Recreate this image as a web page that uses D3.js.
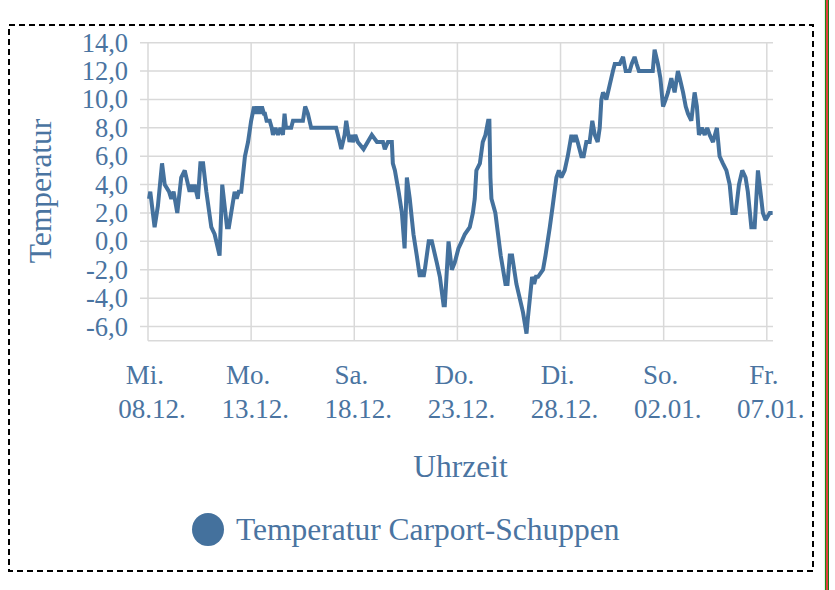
<!DOCTYPE html>
<html><head><meta charset="utf-8">
<script src="https://cdn.jsdelivr.net/npm/d3@7"></script>
<style>html,body{margin:0;padding:0;background:#fff;}svg{display:block;}</style>
</head><body>
<svg id="chart" width="835" height="590"></svg>
<script>
// ---- data ----
const startDate = new Date(2021, 11, 8, 0, 0);
const endDayOffset = 30.3;
const dayOffsets = [
  0.05,0.11,0.32,0.48,0.68,0.81,1.02,1.13,1.24,1.42,1.61,1.78,1.94,2.02,2.10,2.18,2.26,2.34,2.42,2.54,2.67,2.83,3.07,3.23,3.47,3.60,3.83,3.92,4.20,4.30,4.40,4.52,
  4.70,4.85,5.00,5.14,5.24,5.33,5.43,5.52,5.62,5.67,5.75,5.90,6.00,6.06,6.18,6.30,6.42,6.54,6.62,6.69,6.94,7.03,7.51,7.62,7.75,7.91,9.12,9.21,9.37,9.53,9.61,9.77,9.85,9.93,10.05,10.17,
  10.45,10.85,11.10,11.39,11.48,11.63,11.82,11.87,11.97,12.15,12.31,12.44,12.55,12.69,12.87,13.03,13.18,13.27,13.36,13.42,13.61,13.76,14.00,14.15,14.33,14.39,14.57,14.73,14.87,15.05,15.21,
  15.36,15.60,15.75,15.84,15.92,16.09,16.23,16.36,16.49,16.55,16.60,16.65,16.84,17.10,17.33,17.43,17.54,17.65,17.86,18.18,18.35,18.41,18.62,18.72,18.81,18.91,19.15,19.27,19.48,19.62,19.80,19.92,20.04,20.20,
  20.35,20.53,20.63,20.73,20.83,21.01,21.12,21.25,21.41,21.54,21.66,21.80,21.90,21.98,22.06,22.22,22.38,22.54,22.63,22.87,23.03,23.16,23.35,23.45,23.59,23.69,23.80,24.47,24.56,24.72,24.84,24.97,
  25.10,25.21,25.37,25.53,25.69,25.78,25.94,26.07,26.18,26.34,26.50,26.61,26.71,26.85,26.99,27.11,27.23,27.39,27.58,27.71,27.87,28.04,28.20,28.33,28.49,28.65,28.81,28.97,29.08,29.25,29.41,29.57,29.73,29.81,29.94,30.14,30.28
];
const temps = [
  3.0,3.5,1.0,2.5,5.5,4.0,3.5,3.0,3.5,2.0,4.5,5.0,4.0,3.5,4.0,3.5,4.0,3.5,3.0,5.5,5.5,3.5,1.0,0.5,-1.0,4.0,1.0,1.0,3.5,3.0,3.5,3.5,
  6.0,7.0,8.5,9.5,9.0,9.5,9.0,9.5,9.0,9.0,8.5,8.5,8.0,7.5,8.0,7.5,8.0,7.5,9.0,8.0,8.0,8.5,8.5,9.5,9.0,8.0,8.0,7.5,6.5,7.5,8.5,7.0,7.5,7.0,7.5,7.0,
  6.5,7.5,7.0,7.0,6.5,7.0,7.0,5.5,5.0,3.5,2.0,-0.5,4.5,3.0,0.5,-1.0,-2.5,-2.0,-2.5,-2.0,0.0,0.0,-1.5,-2.5,-4.5,-4.5,0.0,-2.0,-1.5,-0.5,0.0,
  0.5,1.0,2.0,3.0,5.0,5.5,7.0,7.5,8.5,8.5,4.5,3.0,2.0,-1.0,-3.0,-3.0,-1.0,-1.0,-3.0,-5.0,-6.5,-5.5,-2.5,-3.0,-2.5,-2.5,-2.0,-1.0,1.0,2.5,4.5,5.0,4.5,5.0,
  6.0,7.5,7.0,7.5,7.0,6.0,6.0,7.0,7.0,8.5,7.5,7.0,8.0,10.0,10.5,10.0,11.0,12.0,12.5,12.5,13.0,12.0,12.0,12.5,13.0,12.5,12.0,12.0,13.5,12.5,11.5,9.5,
  10.0,10.5,11.5,10.5,12.0,11.5,10.5,9.5,9.0,8.5,10.5,9.5,7.5,8.0,7.5,8.0,7.5,7.0,8.0,6.0,5.5,5.0,4.0,2.0,2.0,4.0,5.0,4.5,3.5,1.0,1.0,5.0,3.0,2.0,1.5,2.0,2.0
];
const tickDayOffsets = [0, 5, 10, 15, 20, 25, 30];
const tickWeekdays = ["Mi.", "Mo.", "Sa.", "Do.", "Di.", "So.", "Fr."];
const tickDates = ["08.12.", "13.12.", "18.12.", "23.12.", "28.12.", "02.01.", "07.01."];
const yTicks = [-6, -4, -2, 0, 2, 4, 6, 8, 10, 12, 14];
const yDomain = [-7, 14];
const seriesName = "Temperatur Carport-Schuppen";
const yTitle = "Temperatur";
const xTitle = "Uhrzeit";

// ---- drawing ----
const DAY = 86400000;
const toDate = d => new Date(startDate.getTime() + d * DAY);
const data = dayOffsets.map((d, i) => ({ t: toDate(d), v: temps[i] }));

const svg = d3.select("#chart");
const L = 148, R = 773, T = 42.7, B = 340.7;
const lineColor = "#44719d";
const textColor = "#4a74a1";
const gridColor = "#d9d9d9";
const font = "'Liberation Serif', 'Times New Roman', serif";

const x = d3.scaleTime().domain([startDate, toDate(endDayOffset)]).range([L, R]);
const y = d3.scaleLinear().domain(yDomain).range([B, T]);

// frame (dashed)
svg.append("rect").attr("x", 9).attr("y", 25).attr("width", 804).attr("height", 546)
  .attr("fill", "none").attr("stroke", "#000").attr("stroke-width", 2).attr("stroke-dasharray", "6,4");

// right edge colored lines
svg.append("line").attr("x1", 825.5).attr("x2", 825.5).attr("y1", 0).attr("y2", 590).attr("stroke", "#1a8a1a").attr("stroke-width", 1.2);
svg.append("line").attr("x1", 827).attr("x2", 827).attr("y1", 0).attr("y2", 590).attr("stroke", "#e01010").attr("stroke-width", 1.6);
svg.append("line").attr("x1", 828.5).attr("x2", 828.5).attr("y1", 0).attr("y2", 590).attr("stroke", "#1a7a1a").attr("stroke-width", 1);

// horizontal gridlines with left tick extension
svg.append("g").selectAll("line").data(yTicks).join("line")
  .attr("x1", L - 8).attr("x2", R)
  .attr("y1", d => y(d)).attr("y2", d => y(d))
  .attr("stroke", gridColor).attr("stroke-width", 1.5);
// bottom axis line
svg.append("line").attr("x1", L).attr("x2", R).attr("y1", B).attr("y2", B)
  .attr("stroke", gridColor).attr("stroke-width", 1.5);

// vertical gridlines
const tickDatesObj = tickDayOffsets.map(toDate);
svg.append("g").selectAll("line").data(tickDatesObj).join("line")
  .attr("x1", d => x(d)).attr("x2", d => x(d)).attr("y1", T).attr("y2", B)
  .attr("stroke", gridColor).attr("stroke-width", 1.5);

// y tick labels
svg.append("g").selectAll("text").data(yTicks).join("text")
  .attr("x", 128).attr("y", d => y(d) + 9)
  .attr("text-anchor", "end")
  .attr("font-family", font).attr("font-size", 26.5).attr("fill", textColor)
  .text(d => d3.format(".1f")(d).replace(".", ",").replace("−", "-"));

// x tick labels (two lines)
const xl = svg.append("g").selectAll("text").data(tickDatesObj).join("text")
  .attr("text-anchor", "middle")
  .attr("font-family", font).attr("font-size", 27).attr("fill", textColor);
xl.append("tspan").attr("x", d => x(d) - 3).attr("y", 384).text((d, i) => tickWeekdays[i]);
xl.append("tspan").attr("x", d => x(d) + 4).attr("y", 417.5).text((d, i) => tickDates[i]);

// axis titles
svg.append("text").attr("transform", "translate(51,191) rotate(-90)")
  .attr("text-anchor", "middle").attr("font-family", font).attr("font-size", 31.5).attr("fill", textColor)
  .text(yTitle);
svg.append("text").attr("x", (L + R) / 2).attr("y", 477)
  .attr("text-anchor", "middle").attr("font-family", font).attr("font-size", 31.5).attr("fill", textColor)
  .text(xTitle);

// line
const line = d3.line().x(d => x(d.t)).y(d => y(d.v));
svg.append("path").datum(data).attr("d", line)
  .attr("fill", "none").attr("stroke", lineColor).attr("stroke-width", 4)
  .attr("stroke-linejoin", "miter").attr("stroke-miterlimit", 2);

// legend
svg.append("ellipse").attr("cx", 208).attr("cy", 529.5).attr("rx", 16).attr("ry", 16.5).attr("fill", lineColor);
svg.append("text").attr("x", 236).attr("y", 540)
  .attr("font-family", font).attr("font-size", 31.5).attr("fill", textColor)
  .text(seriesName);
</script>
</body></html>
